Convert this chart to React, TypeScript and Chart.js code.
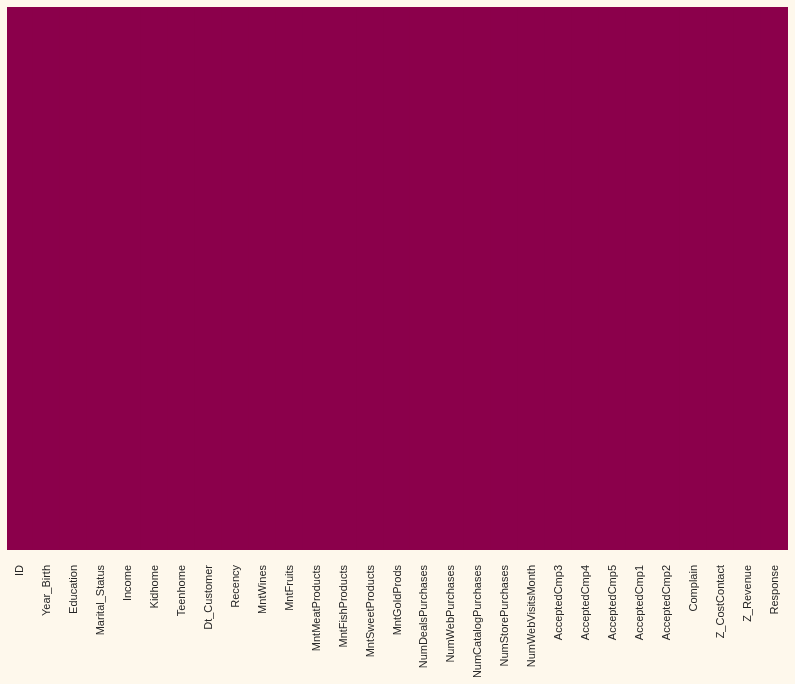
import React, { useEffect, useRef } from "react";
import { Chart, registerables } from "chart.js";

Chart.register(...registerables);

const columns = [
  "ID", "Year_Birth", "Education", "Marital_Status", "Income", "Kidhome", "Teenhome",
  "Dt_Customer", "Recency", "MntWines", "MntFruits", "MntMeatProducts", "MntFishProducts",
  "MntSweetProducts", "MntGoldProds", "NumDealsPurchases", "NumWebPurchases",
  "NumCatalogPurchases", "NumStorePurchases", "NumWebVisitsMonth", "AcceptedCmp3",
  "AcceptedCmp4", "AcceptedCmp5", "AcceptedCmp1", "AcceptedCmp2", "Complain",
  "Z_CostContact", "Z_Revenue", "Response",
];
// missing-value flag per column (all rows present -> 0)
const missing = columns.map(() => 0);
const fullHeight = columns.map(() => 1);

const BG = "#fef8ec";
const colorFor = (v: number) => (v > 0 ? "#fdf1d8" : "#8b004b");

export default function App() {
  const ref = useRef<HTMLCanvasElement | null>(null);
  useEffect(() => {
    document.body.style.margin = "0";
    document.body.style.background = BG;
    const chart = new Chart(ref.current!, {
      type: "bar",
      data: {
        labels: columns,
        datasets: [
          {
            data: fullHeight,
            backgroundColor: missing.map(colorFor),
            borderWidth: 0,
            barPercentage: 1,
            categoryPercentage: 1,
            inflateAmount: 1,
          } as any,
        ],
      },
      options: {
        animation: false,
        responsive: false,
        layout: { padding: { left: 7, right: 7, top: 7, bottom: 0 } },
        plugins: { legend: { display: false }, tooltip: { enabled: false } },
        scales: {
          x: {
            grid: { display: false, drawTicks: false },
            border: { display: false },
            ticks: {
              minRotation: 90,
              maxRotation: 90,
              autoSkip: false,
              padding: 15,
              color: "#262626",
              font: { family: "'Liberation Sans', Arial, sans-serif", size: 11 },
            },
            afterFit: (s: any) => {
              s.height = 134;
              s.paddingLeft = 0;
              s.paddingRight = 0;
            },
          },
          y: { display: false, min: 0, max: 1 },
        },
      },
    });
    return () => chart.destroy();
  }, []);
  return (
    <div style={{ position: "absolute", left: 0, top: 0, width: 795, height: 684, background: BG }}>
      <canvas ref={ref} width={795} height={684} style={{ display: "block" }} />
    </div>
  );
}
